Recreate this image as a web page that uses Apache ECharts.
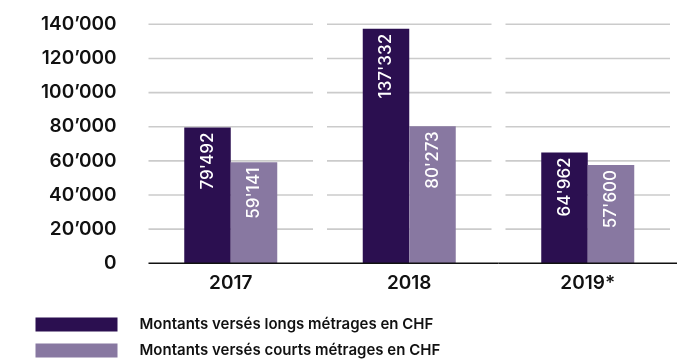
<!DOCTYPE html>
<html>
<head>
<meta charset="utf-8">
<script src="https://cdn.jsdelivr.net/npm/echarts@6/dist/echarts.min.js"></script>
<style>
  html, body { margin: 0; padding: 0; background: #ffffff; }
  #chart { width: 677px; height: 360px; }
</style>
</head>
<body>
<div id="chart"></div>
<script>
// Years shown on the category axis
const years = ['2017', '2018', '2019*'];

// Amounts paid out (CHF)
const longsMetrages = [79492, 137332, 64962];
const courtsMetrages = [59141, 80273, 57600];

// Series names used in the legend
const seriesNames = [
  'Montants versés longs métrages en CHF',
  'Montants versés courts métrages en CHF'
];

// Value-axis ticks
const yTicks = [0, 20000, 40000, 60000, 80000, 100000, 120000, 140000];

const FONT = 'Inter, "DejaVu Sans", sans-serif';
const DARK = '#2b0f50';
const LIGHT = '#8878a1';

// Swiss-style thousands separator
function swiss(v, sep) {
  return String(v).replace(/\B(?=(\d{3})+(?!\d))/g, sep);
}

// One gridline segment per category and tick (gaps between categories)
const gridData = [];
years.forEach((y, i) => {
  yTicks.forEach(t => { if (t > 0) gridData.push([i, t]); });
});
const baseData = years.map((y, i) => [i, yTicks[0]]);

const barLabel = {
  show: true,
  position: 'insideTop',
  distance: 5,
  rotate: 90,
  align: 'right',
  verticalAlign: 'middle',
  fontFamily: FONT,
  fontSize: 17,
  fontWeight: 500,
  color: '#ffffff',
  formatter: p => swiss(p.value, "'")
};

const chart = echarts.init(document.getElementById('chart'), null, { renderer: 'canvas' });

chart.setOption({
  animation: false,
  backgroundColor: '#ffffff',
  textStyle: { fontFamily: FONT },
  grid: { left: 141.5, top: 24.3, width: 543, height: 239, containLabel: false },
  legend: {
    data: seriesNames,
    orient: 'vertical',
    left: 35.5,
    top: 317,
    width: 400,
    height: 60,
    padding: 0,
    itemWidth: 82,
    itemHeight: 14,
    itemGap: 11,
    icon: 'rect',
    selectedMode: false,
    textStyle: {
      fontFamily: FONT,
      fontSize: 15,
      lineHeight: 14,
      fontWeight: 600,
      color: '#111111',
      padding: [0, 0, 0, 17]
    }
  },
  xAxis: {
    type: 'category',
    data: years,
    axisLine: { show: false },
    axisTick: { show: false },
    axisLabel: {
      margin: 10,
      fontFamily: FONT,
      fontSize: 19,
      fontWeight: 600,
      color: '#111111'
    },
    splitLine: { show: false }
  },
  yAxis: {
    type: 'value',
    min: yTicks[0],
    max: yTicks[yTicks.length - 1],
    interval: yTicks[1] - yTicks[0],
    axisLine: { show: false },
    axisTick: { show: false },
    splitLine: { show: false },
    axisLabel: {
      margin: 25,
      fontFamily: FONT,
      fontSize: 19,
      fontWeight: 600,
      color: '#111111',
      formatter: v => swiss(v, '\u2019')
    }
  },
  series: [
    {
      type: 'custom',
      name: 'grid',
      z: 1,
      silent: true,
      data: gridData,
      encode: { x: 0, y: 1 },
      renderItem: function (params, api) {
        const p = api.coord([api.value(0), api.value(1)]);
        const w = api.size([1, 0])[0];
        return {
          type: 'line',
          shape: { x1: p[0] - w / 2 + 7, y1: p[1], x2: p[0] + w / 2 - 7, y2: p[1] },
          style: { stroke: '#cbcbcb', lineWidth: 1.6 }
        };
      }
    },
    {
      name: seriesNames[0],
      type: 'bar',
      z: 2,
      data: longsMetrages,
      barWidth: 46.5,
      barGap: '0%',
      itemStyle: { color: DARK },
      label: barLabel
    },
    {
      name: seriesNames[1],
      type: 'bar',
      z: 2,
      data: courtsMetrages,
      barWidth: 46.5,
      barGap: '0%',
      itemStyle: { color: LIGHT },
      label: barLabel
    },
    {
      type: 'custom',
      name: 'baseline',
      z: 3,
      silent: true,
      data: baseData,
      encode: { x: 0, y: 1 },
      renderItem: function (params, api) {
        const i = api.value(0);
        const p = api.coord([i, api.value(1)]);
        const w = api.size([1, 0])[0];
        const x1 = i === 0 ? p[0] - w / 2 + 7 : p[0] - w / 2;
        return {
          type: 'line',
          shape: { x1: x1, y1: p[1], x2: p[0] + w / 2, y2: p[1] },
          style: { stroke: '#111111', lineWidth: 1.5 }
        };
      }
    }
  ]
});
</script>
</body>
</html>
